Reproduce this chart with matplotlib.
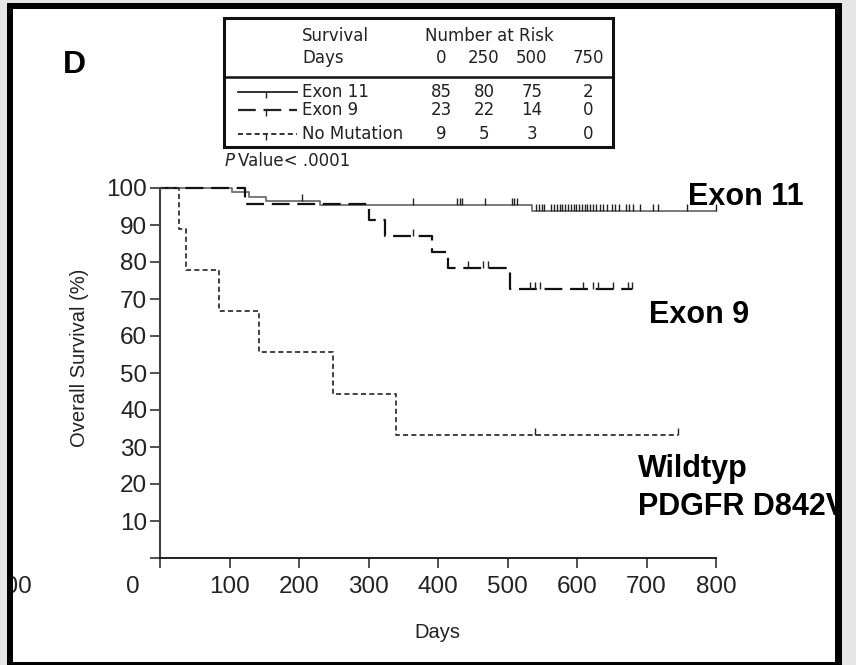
import numpy as np
import matplotlib
matplotlib.use('Agg')
import matplotlib.pyplot as plt
from matplotlib.patches import Rectangle
from matplotlib.lines import Line2D

# ---------------- data ----------------
group_names = ['Exon 11', 'Exon 9', 'No Mutation']
risk_days = [0, 250, 500, 750]
exon11_risk = [85, 80, 75, 2]
exon9_risk = [23, 22, 14, 0]
nomut_risk = [9, 5, 3, 0]

exon11_t = [0, 103, 128, 153, 230, 535, 800]
exon11_s = [100, 98.8, 97.6, 96.4, 95.3, 93.9, 93.9]
exon11_cens = [205, 364, 427, 431, 435, 468, 506, 510, 514,
               541, 545, 549, 553, 562, 567, 571, 575, 579, 583, 587, 591,
               595, 599, 603, 607, 611, 615, 619, 623, 628, 633, 638, 643,
               650, 655, 660, 670, 675, 680, 690, 709, 716, 758, 800]

exon9_t = [0, 123, 300, 324, 391, 415, 504, 679]
exon9_s = [100, 95.7, 91.3, 87.0, 82.6, 78.3, 72.7, 72.7]
exon9_cens = [364, 443, 465, 472, 532, 540, 547, 609, 623, 630, 652, 674, 679]

nomut_t = [0, 28, 37, 85, 143, 249, 340, 745]
nomut_s = [100, 88.9, 77.8, 66.7, 55.6, 44.4, 33.3, 33.3]
nomut_cens = [540, 745]

x_ticks = [0, 100, 200, 300, 400, 500, 600, 700, 800]
x_ticklabels = ['', '100', '200', '300', '400', '500', '600', '700', '800']
y_ticks = [0, 10, 20, 30, 40, 50, 60, 70, 80, 90, 100]
y_ticklabels = [''] + [str(v) for v in y_ticks[1:]]

p_text = 'Value< .0001'
curve_labels = ['Exon 11', 'Exon 9', 'Wildtyp\nPDGFR D842V']

# ---------------- figure ----------------
W, H = 856, 665
fig = plt.figure(figsize=(W / 100, H / 100), dpi=100, facecolor='white')
SANS = ['Liberation Sans', 'DejaVu Sans']
TAB = ['DejaVu Sans']

# main axes: data 0 -> px 160, 800 -> px 716 ; y 0 -> px 558, 100 -> px 188
px_per_x = (716 - 160) / 800.0
px_per_y = (558 - 188) / 100.0
xmin, xmax = -20, 810
ymin, ymax = -2, 101
left_px = 160 + xmin * px_per_x
right_px = 160 + xmax * px_per_x
top_px = 558 - ymax * px_per_y
bot_px = 558 - ymin * px_per_y
ax = fig.add_axes([left_px / W, 1 - bot_px / H, (right_px - left_px) / W, (bot_px - top_px) / H])
ax.set_xlim(xmin, xmax)
ax.set_ylim(ymin, ymax)
ax.patch.set_visible(False)

for s in ['top', 'right']:
    ax.spines[s].set_visible(False)
ax.spines['left'].set_position(('data', 0))
ax.spines['bottom'].set_position(('data', 0))
ax.spines['left'].set_bounds(0, 100)
ax.spines['bottom'].set_bounds(0, 800)
ax.spines['left'].set_color('#444444')
ax.spines['bottom'].set_color('#111111')
ax.spines['left'].set_linewidth(1.5)
ax.spines['bottom'].set_linewidth(1.3)

ax.set_xticks(x_ticks)
ax.set_xticklabels(x_ticklabels)
ax.set_yticks(y_ticks)
ax.set_yticklabels(y_ticklabels)
ax.tick_params(axis='both', direction='out', length=7.2, width=1.2, color='#333333',
               labelsize=17.5, labelcolor='#222222')
ax.tick_params(axis='y', pad=2)
ax.tick_params(axis='x', pad=6)
for lab in ax.get_xticklabels() + ax.get_yticklabels():
    lab.set_fontfamily(SANS)


def level(ts, ss, c):
    i = np.searchsorted(ts, c, side='right') - 1
    return ss[max(i, 0)]


styles = [
    dict(color='#707070', lw=1.3, ls='-'),
    dict(color='#111111', lw=1.6, dashes=(8, 3.5)),
    dict(color='#333333', lw=1.3, dashes=(2.8, 1.8)),
]
series = [(exon11_t, exon11_s, exon11_cens),
          (exon9_t, exon9_s, exon9_cens),
          (nomut_t, nomut_s, nomut_cens)]
for (ts, ss, cs), st in zip(series, styles):
    kw = dict(st)
    ls = kw.pop('ls', None)
    if ls:
        ax.step(ts, ss, where='post', linestyle=ls, **kw)
    else:
        ax.step(ts, ss, where='post', **kw)
    cy = [level(ts, ss, c) for c in cs]
    ax.plot(cs, cy, linestyle='none', marker=2, markersize=5, mew=1.0, color='#222222')

# ---------------- overlay in pixel coordinates ----------------
ov = fig.add_axes([0, 0, 1, 1], zorder=5)
ov.set_xlim(0, W)
ov.set_ylim(H, 0)
ov.axis('off')
ov.patch.set_visible(False)

# axis labels
ov.text(80, 358, 'Overall Survival (%)', rotation=90, ha='center', va='center',
        fontsize=14.5, family=SANS, color='#222222')
ov.text(437, 632, 'Days', ha='center', va='center', fontsize=14.5, family=SANS, color='#222222')
# stray tick labels
ov.text(133, 587, '0', ha='center', va='center', fontsize=17.5, family=SANS, color='#222222')
ov.text(32, 587, '100', ha='right', va='center', fontsize=17.5, family=SANS, color='#222222')

# panel letter
ov.text(63, 73, 'D', ha='left', va='baseline', fontsize=23, fontweight='bold', family=SANS)

# curve labels
ov.text(688, 205, curve_labels[0], ha='left', va='baseline', fontsize=22, fontweight='bold', family=SANS)
ov.text(649, 323, curve_labels[1], ha='left', va='baseline', fontsize=22, fontweight='bold', family=SANS)
wl = curve_labels[2].split('\n')
ov.text(638, 477, wl[0], ha='left', va='baseline', fontsize=22, fontweight='bold', family=SANS)
ov.text(638, 515, wl[1], ha='left', va='baseline', fontsize=22, fontweight='bold', family=SANS)

# risk table
ov.add_patch(Rectangle((224, 18), 613 - 224, 147 - 18, fill=False, ec='#111111', lw=2.2))
ov.plot([224, 613], [77, 77], color='#111111', lw=1.8)
fs = 12
ov.text(302, 41, 'Survival', ha='left', va='baseline', fontsize=fs, family=TAB, color='#222222')
ov.text(302, 63, 'Days', ha='left', va='baseline', fontsize=fs, family=TAB, color='#222222')
ov.text(425, 41, 'Number at Risk', ha='left', va='baseline', fontsize=fs, family=TAB, color='#222222')
col_x = [441, 484, 532, 588]
for d, cx in zip(risk_days, col_x):
    ov.text(cx, 63, str(d), ha='center', va='baseline', fontsize=fs, family=TAB, color='#222222')
row_y = [97, 115, 139]
for name, counts, ry, st in zip(group_names, [exon11_risk, exon9_risk, nomut_risk], row_y, styles):
    ov.text(302, ry, name, ha='left', va='baseline', fontsize=fs, family=TAB, color='#222222')
    for cnt, cx in zip(counts, col_x):
        ov.text(cx, ry, str(cnt), ha='center', va='baseline', fontsize=fs, family=TAB, color='#222222')
    kw = dict(st)
    ls = kw.pop('ls', None)
    kw['color'] = '#222222'
    if ls:
        ov.plot([238, 297], [ry - 5, ry - 5], linestyle=ls, **kw)
    else:
        ov.plot([238, 297], [ry - 5, ry - 5], **kw)
    ov.plot([266], [ry - 5], marker=3, markersize=4, mew=1.0, color='#222222')

# P value
ov.text(225, 166, 'P', ha='left', va='baseline', fontsize=fs, style='italic', family=TAB, color='#222222')
ov.text(238, 166, p_text, ha='left', va='baseline', fontsize=fs, family=TAB, color='#222222')

# outer frame (drawn on top)
grey = '#e6e6e6'
for (x0, y0, w, h, c) in [(0, 0, 7, H, grey), (0, 0, W, 3, grey), (842, 0, W - 842, H, grey),
                          (7, 3, 6, H - 3, 'black'), (7, 3, 835, 6, 'black'),
                          (835, 3, 7, H - 3, 'black'), (7, 662, 835, 3, 'black')]:
    ov.add_patch(Rectangle((x0, y0), w, h, fc=c, ec='none', zorder=10))

fig.savefig('out.png', dpi=100, facecolor='white')
